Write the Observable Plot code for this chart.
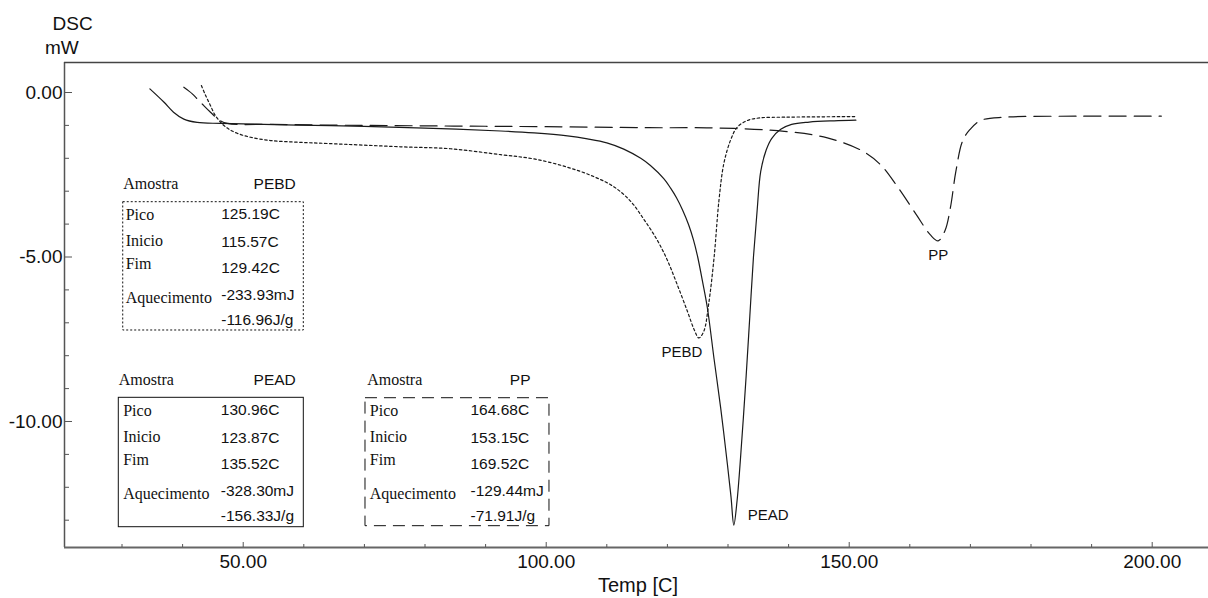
<!DOCTYPE html>
<html>
<head>
<meta charset="utf-8">
<script src="https://cdn.jsdelivr.net/npm/d3@7"></script>
<script src="https://cdn.jsdelivr.net/npm/@observablehq/plot@0.6"></script>
<style>
  html, body { margin: 0; padding: 0; background: #fff; overflow: hidden; }
  svg { display: block; }
</style>
</head>
<body>
<div id="chart"></div>
<script>
// DSC heating thermograms of three polymers (heat flow in mW vs temperature in °C)

// --- Samples and their measured transitions ---
const samples = ["PEBD", "PEAD", "PP"];
const peakC   = [125.19, 130.96, 164.68];
const onsetC  = [115.57, 123.87, 153.15];
const endC    = [129.42, 135.52, 169.52];
const heatMJ  = [-233.93, -328.30, -129.44];
const heatJg  = [-116.96, -156.33, -71.91];
const rowLabels = ["Pico", "Inicio", "Fim", "Aquecimento"];

// --- Curves ---
const pebdTemp = [43.1, 43.8, 44.6, 45.4, 46.5, 47.6, 49.0, 51.2, 54.5, 58.9, 63.9, 76, 84.2, 92.5, 98.0, 103.5, 107.9, 111.2, 113.9, 116.1, 118.3, 120.0, 121.6, 123.3, 124.4, 125.19, 126.0, 126.8, 127.7, 128.5, 129.3, 130.4, 131.5, 133.2, 135.4, 139.3, 145, 151.1];
const pebdFlow = [0.21, -0.09, -0.4, -0.7, -0.95, -1.11, -1.24, -1.36, -1.46, -1.51, -1.55, -1.65, -1.71, -1.89, -2.02, -2.27, -2.56, -2.87, -3.3, -3.85, -4.48, -5.1, -5.83, -6.65, -7.2, -7.46, -7.26, -6.44, -5.02, -3.29, -2.17, -1.46, -1.06, -0.85, -0.77, -0.75, -0.74, -0.73];

const peadTemp = [34.6, 36.9, 38.5, 40.2, 42.4, 46.3, 53.4, 61.7, 70, 80, 92.5, 98, 103.5, 106.8, 110, 112.8, 115.6, 117.2, 119.4, 120.5, 121.5, 122.5, 123.5, 124.3, 125.0, 125.8, 126.6, 127.7, 128.8, 129.9, 130.5, 130.96, 131.5, 132.3, 133.0, 133.6, 134.2, 134.8, 135.4, 136.3, 137.2, 138.7, 140.5, 143.4, 147.5, 151.1];
const peadFlow = [0.11, -0.29, -0.6, -0.81, -0.91, -0.94, -0.97, -1.0, -1.03, -1.08, -1.17, -1.23, -1.32, -1.41, -1.53, -1.72, -2.0, -2.22, -2.62, -2.9, -3.2, -3.57, -4.02, -4.48, -5.0, -5.75, -6.55, -8.1, -9.6, -11.3, -12.3, -13.15, -12.4, -10.5, -8.6, -6.8, -5.0, -3.6, -2.4, -1.75, -1.4, -1.12, -0.97, -0.9, -0.86, -0.84];

const ppTemp = [40.2, 41.0, 41.6, 42.4, 43.5, 44.6, 46.0, 47.4, 55, 70, 85, 100, 116.9, 128.7, 139.3, 146.4, 152.3, 155.2, 158.1, 161.1, 163.4, 164.68, 165.8, 166.7, 167.6, 168.7, 169.9, 171.7, 175.8, 187.6, 201.5];
const ppFlow = [0.16, 0.05, -0.04, -0.19, -0.4, -0.6, -0.83, -0.94, -0.97, -1.0, -1.02, -1.04, -1.07, -1.08, -1.18, -1.38, -1.79, -2.2, -2.9, -3.72, -4.33, -4.51, -4.2, -3.5, -2.4, -1.48, -1.13, -0.85, -0.75, -0.72, -0.72];

// --- Axis ticks ---
const xMajor = [50, 100, 150, 200];
const xMinor = [30, 40, 60, 70, 80, 90, 110, 120, 130, 140, 160, 170, 180, 190];
const yMajor = [0, -5, -10];
const yMinor = [-1, -2, -3, -4, -6, -7, -8, -9, -11, -12, -13];

// --- Presentation ---
const SANS = "'Liberation Sans', Arial, Helvetica, sans-serif";
const SERIF = "'Liberation Serif', 'Times New Roman', serif";
const INK = "#111";
const AXIS = "#555";
const xDomain = [20.51, 209.29];
const yDomain = [-13.83, 0.912];

const series = [
  {temp: pebdTemp, flow: pebdFlow, dash: "2.5,2.5"},
  {temp: peadTemp, flow: peadFlow, dash: null},
  {temp: ppTemp, flow: ppFlow, dash: "17,8"}
];

// info panels: corners in data units, text offsets in px
const panelLayout = [
  {x1: 30.2, x2: 60.0, y1: -3.334, y2: -7.234, headDx: 0, nameDx: -8, labelDx: 2.5, valueDx: 98, dash: "2,2"},
  {x1: 29.47, x2: 60.0, y1: -9.28, y2: -13.213, headDx: 0, nameDx: -8, labelDx: 4.4, valueDx: 102, dash: null},
  {x1: 70.18, x2: 100.54, y1: -9.292, y2: -13.182, headDx: 1.7, nameDx: -19, labelDx: 4.3, valueDx: 105, dash: "12,7"}
];
const labelDy = [13, 39, 62, 96];
const valueDy = [12, 40, 66, 93, 118];

// curve name labels, offset from each peak
const peakLabelStyle = [
  {dx: -17, dy: 14, textAnchor: "middle"},
  {dx: 14, dy: -9.6, textAnchor: "start"},
  {dx: 0, dy: 14, textAnchor: "middle"}
];

const curveMarks = series.map((s, i) => {
  const rows = s.temp.map((t, j) => ({t, v: s.flow[j]}));
  return Plot.line(rows, {
    x: "t", y: "v", curve: "catmull-rom",
    stroke: "#1a1a1a", strokeWidth: 1.2,
    strokeDasharray: s.dash
  });
});

const peakMarks = samples.map((name, i) => {
  const row = {t: peakC[i], v: d3.min(series[i].flow), name};
  return Plot.text([row], {
    x: "t", y: "v", text: "name",
    fontFamily: SANS, fontSize: 15, fill: INK,
    ...peakLabelStyle[i]
  });
});

const panelMarks = samples.flatMap((name, i) => {
  const p = {...panelLayout[i], name};
  const values = [
    peakC[i].toFixed(2) + "C",
    onsetC[i].toFixed(2) + "C",
    endC[i].toFixed(2) + "C",
    heatMJ[i].toFixed(2) + "mJ",
    heatJg[i].toFixed(2) + "J/g"
  ];
  return [
    Plot.rect([p], {x1: "x1", x2: "x2", y1: "y1", y2: "y2", fill: "none", stroke: INK, strokeWidth: 1, strokeDasharray: p.dash}),
    Plot.text([p], {x: "x1", y: "y1", text: () => "Amostra", dx: p.headDx, dy: -18, textAnchor: "start", fontFamily: SERIF, fontSize: 16, fill: INK}),
    Plot.text([p], {x: "x2", y: "y1", text: "name", dx: p.nameDx, dy: -18, textAnchor: "end", fontFamily: SANS, fontSize: 15.5, fill: INK}),
    ...rowLabels.map((lab, r) => Plot.text([p], {x: "x1", y: "y1", text: () => lab, dx: p.labelDx, dy: labelDy[r], textAnchor: "start", fontFamily: SERIF, fontSize: 16, fill: INK})),
    ...values.map((val, r) => Plot.text([p], {x: "x1", y: "y1", text: () => val, dx: p.valueDx, dy: valueDy[r], textAnchor: "start", fontFamily: SANS, fontSize: 15.5, fill: INK}))
  ];
});

const chart = Plot.plot({
  width: 1208,
  height: 598,
  marginLeft: 64,
  marginRight: 0,
  marginTop: 62,
  marginBottom: 51,
  x: {domain: xDomain, label: null},
  y: {domain: yDomain, label: null},
  style: {fontFamily: SANS, fontSize: "19px", color: INK, background: "#fff", overflow: "visible"},
  marks: [
    // frame: left, top, bottom
    Plot.ruleX([xDomain[0]], {stroke: AXIS, strokeWidth: 1.5}),
    Plot.ruleY([yDomain[1]], {stroke: "#444", strokeWidth: 1.5}),
    Plot.ruleY([yDomain[0]], {stroke: "#666", strokeWidth: 2}),
    // inward ticks
    Plot.axisX(xMajor, {tickSize: -5, fill: "none", stroke: AXIS, label: null}),
    Plot.axisX(xMinor, {tickSize: -3, fill: "none", stroke: AXIS, label: null}),
    Plot.axisY(yMajor, {tickSize: -8, fill: "none", stroke: AXIS, label: null}),
    Plot.axisY(yMinor, {tickSize: -5, fill: "none", stroke: AXIS, label: null}),
    // tick labels
    Plot.axisX(xMajor, {tickSize: 0, tickPadding: 7, tickFormat: d => d.toFixed(2), fontSize: 19, fill: INK, label: null}),
    Plot.axisY(yMajor, {tickSize: 0, tickPadding: 2, tickFormat: d => d.toFixed(2), fontSize: 19, fill: INK, label: null}),
    // axis titles
    Plot.text(["Temp [C]"], {frameAnchor: "bottom", dx: 1.5, dy: 44, fontFamily: SANS, fontSize: 20, fill: INK}),
    Plot.text(["DSC"], {frameAnchor: "top-left", dx: -12, dy: -46, fontFamily: SANS, fontSize: 19, fill: INK}),
    Plot.text(["mW"], {frameAnchor: "top-left", dx: -19.5, dy: -22, fontFamily: SANS, fontSize: 19, fill: INK}),
    ...curveMarks,
    ...peakMarks,
    ...panelMarks
  ]
});

document.getElementById("chart").appendChild(chart);
</script>
</body>
</html>
